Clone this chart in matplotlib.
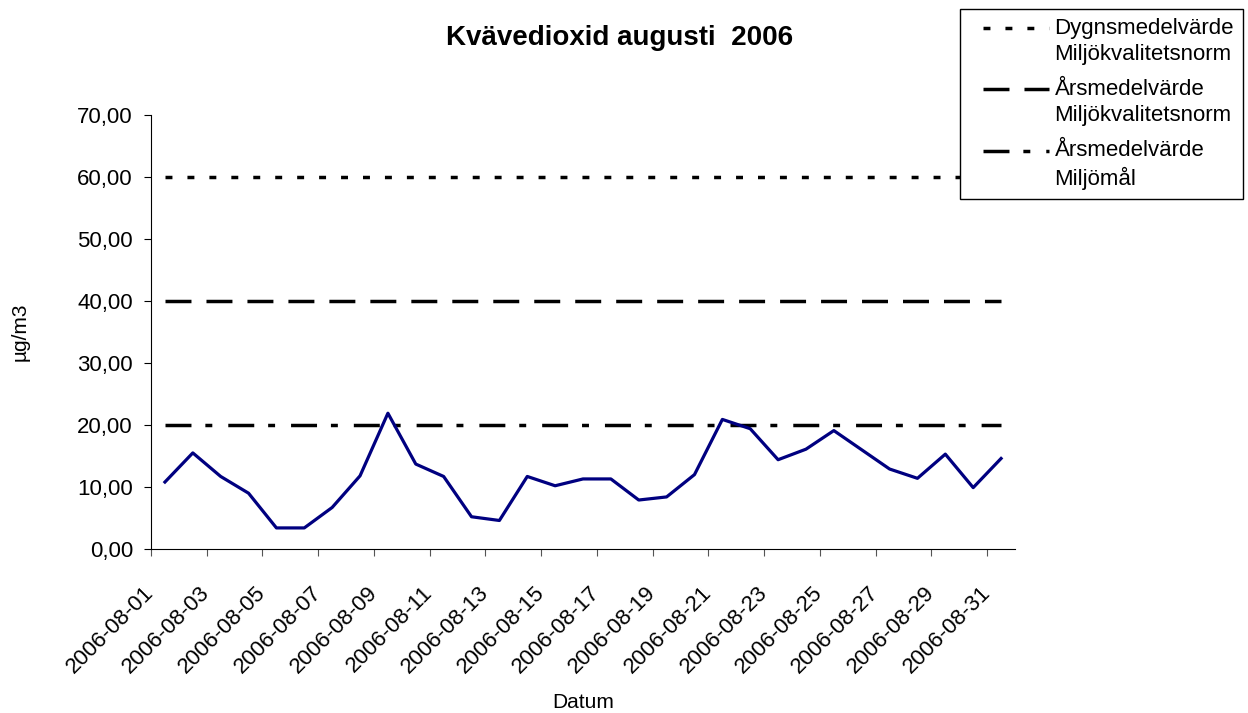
import matplotlib
matplotlib.use('Agg')
from matplotlib import pyplot as plt

plt.rcParams['font.family'] = ['Liberation Sans', 'DejaVu Sans']
plt.rcParams['lines.scale_dashes'] = False

days = [f'2006-08-{d:02d}' for d in range(1, 32)]
no2 = [10.8, 15.5, 11.7, 9.0, 3.4, 3.4, 6.7, 11.8, 21.9, 13.7,
       11.7, 5.2, 4.6, 11.7, 10.2, 11.3, 11.3, 7.9, 8.4, 12.0,
       20.9, 19.4, 14.4, 16.1, 19.1, 16.0, 12.9, 11.4, 15.3, 9.9,
       14.6]
dygn_norm = [60.0] * 31
ars_norm = [40.0] * 31
ars_mal = [20.0] * 31
yticks = [0, 10, 20, 30, 40, 50, 60, 70]

fig = plt.figure(figsize=(12.48, 7.13), dpi=100)
ax = fig.add_axes([151 / 1248, 1 - 549 / 713, 864 / 1248, 434 / 713])

x = list(range(len(days)))
ax.plot(x, no2, color='#000080', lw=2.3, zorder=3)
l1, = ax.plot(x, dygn_norm, color='black', lw=2.5,
              linestyle=(0, (5, 10.8)), dash_capstyle='butt')
l2, = ax.plot(x, ars_norm, color='black', lw=2.5,
              linestyle=(0, (18.7, 10.8)), dash_capstyle='butt')
l3, = ax.plot(x, ars_mal, color='black', lw=2.5,
              linestyle=(0, (18.7, 10, 5, 11.5)), dash_capstyle='butt')

ax.set_xlim(-0.5, len(days) - 0.5)
ax.set_ylim(0, 70)
ax.set_yticks(yticks)
ax.set_yticklabels([f'{v:.2f}'.replace('.', ',') for v in yticks], fontsize=16)

# category boundaries carry both the tick marks and the (rotated) labels
ax.set_xticks([i - 0.5 for i in range(0, 31, 2)])
ax.set_xticklabels(days[::2], rotation=45, ha='right', va='center',
                   rotation_mode='anchor', fontsize=16)
ax.tick_params(axis='x', length=5, direction='out', color='#555555', pad=24)
ax.tick_params(axis='y', length=5, direction='out', pad=8)

for s in ('top', 'right'):
    ax.spines[s].set_visible(False)

fig.text(583 / 1248, 1 - 703 / 713, 'Datum', ha='center', va='center', fontsize=15)
fig.text(20 / 1248, 1 - 332 / 713, 'µg/m3', ha='center', va='center',
         rotation=90, fontsize=15)
fig.text(620 / 1248, 1 - 38 / 713, 'Kvävedioxid augusti  2006', ha='center',
         va='center', fontsize=20, fontweight='bold')

leg = fig.legend([l1, l2, l3],
                 ['Dygnsmedelvärde\nMiljökvalitetsnorm',
                  'Årsmedelvärde\nMiljökvalitetsnorm',
                  'Årsmedelvärde\nMiljömål'],
                 loc='upper left', bbox_to_anchor=(960 / 1248, 1 - 9 / 713),
                 borderaxespad=0, fontsize=16, handlelength=3.6,
                 handletextpad=0.25, labelspacing=0.6, borderpad=0.4,
                 fancybox=False, edgecolor='black', framealpha=1)
leg.get_frame().set_linewidth(1.0)
for t in leg.get_texts():
    t.set_linespacing(1.35)
# handles sit on the first line of each two-line label, indented a bit
for line in leg.get_lines():
    xd = line.get_xdata()
    line.set_xdata([xd[0] + 10, xd[-1]])
    line.set_ydata([line.get_ydata()[0] + 10] * 2)

fig.savefig('out.png', dpi=100)
